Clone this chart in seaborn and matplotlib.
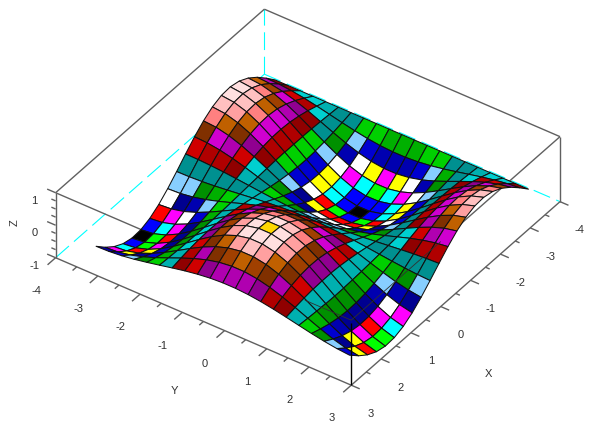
import numpy as np
import matplotlib
matplotlib.use("Agg")
import matplotlib.pyplot as plt
import seaborn as sns
from mpl_toolkits.mplot3d import Axes3D, proj3d


# grid (21 lines each way)
x_vals = [-3.14, -2.84, -2.54, -2.24, -1.94, -1.64, -1.34, -1.04, -0.74, -0.44, -0.14,
          0.16, 0.46, 0.76, 1.06, 1.36, 1.66, 1.96, 2.26, 2.56, 2.86]
y_vals = [-3.14, -2.84, -2.54, -2.24, -1.94, -1.64, -1.34, -1.04, -0.74, -0.44, -0.14,
          0.16, 0.46, 0.76, 1.06, 1.36, 1.66, 1.96, 2.26, 2.56, 2.86]

# height per x line (rows) and y line (columns)
z_vals = [
    [0, 0, 0, 0, 0, 0, 0, 0, 0, 0, 0, 0, 0, 0, 0, 0, 0, 0, 0, 0, 0],
    [.296, .282, .244, .184, .107, .021, -.067, -.149, -.218, -.267, -.293, -.292, -.265, -.215, -.145, -.062, .026, .112, .188, .247, .284],
    [.565, .539, .466, .351, .205, .040, -.128, -.285, -.416, -.510, -.559, -.558, -.506, -.410, -.277, -.119, .049, .213, .358, .471, .542],
    [.783, .748, .646, .487, .284, .055, -.178, -.395, -.578, -.708, -.775, -.774, -.702, -.569, -.384, -.165, .069, .296, .497, .654, .752],
    [.932, .890, .769, .579, .338, .066, -.212, -.470, -.687, -.843, -.923, -.920, -.836, -.677, -.457, -.196, .082, .352, .592, .778, .895],
    [.997, .953, .823, .620, .361, .071, -.227, -.504, -.736, -.902, -.988, -.985, -.895, -.724, -.489, -.210, .087, .377, .633, .833, .958],
    [.974, .930, .804, .605, .353, .069, -.221, -.492, -.718, -.880, -.964, -.962, -.873, -.707, -.477, -.205, .085, .368, .618, .813, .935],
    [.863, .825, .712, .537, .313, .061, -.196, -.436, -.637, -.780, -.855, -.852, -.774, -.627, -.423, -.182, .076, .326, .548, .721, .829],
    [.675, .645, .557, .420, .245, .048, -.153, -.341, -.498, -.611, -.669, -.667, -.606, -.490, -.331, -.142, .059, .255, .429, .564, .649],
    [.427, .408, .353, .266, .155, .030, -.097, -.216, -.315, -.386, -.423, -.422, -.383, -.310, -.210, -.090, .037, .162, .271, .357, .410],
    [.141, .135, .116, .088, .051, .010, -.032, -.071, -.104, -.128, -.140, -.139, -.127, -.102, -.069, -.030, .012, .053, .090, .118, .135],
    [-.158, -.151, -.130, -.098, -.057, -.011, .036, .080, .116, .143, .156, .156, .141, .114, .077, .033, -.014, -.060, -.100, -.132, -.151],
    [-.443, -.423, -.365, -.275, -.160, -.031, .101, .223, .326, .400, .438, .437, .397, .321, .217, .093, -.039, -.167, -.281, -.369, -.425],
    [-.688, -.657, -.568, -.428, -.249, -.049, .156, .347, .507, .622, .681, .679, .617, .499, .337, .145, -.060, -.260, -.437, -.574, -.660],
    [-.872, -.833, -.719, -.542, -.316, -.062, .198, .440, .643, .788, .863, .861, .782, .633, .427, .184, -.076, -.329, -.553, -.728, -.837],
    [-.978, -.934, -.807, -.608, -.354, -.069, .222, .494, .721, .884, .968, .965, .877, .710, .479, .206, -.086, -.369, -.620, -.816, -.939],
    [-.996, -.952, -.822, -.619, -.361, -.070, .226, .503, .735, .901, .986, .984, .893, .723, .488, .210, -.087, -.377, -.632, -.832, -.957],
    [-.926, -.884, -.764, -.575, -.335, -.065, .210, .467, .683, .837, .917, .914, .830, .672, .454, .195, -.081, -.350, -.588, -.773, -.889],
    [-.773, -.738, -.638, -.480, -.280, -.055, .176, .390, .570, .699, .765, .763, .693, .561, .379, .163, -.068, -.292, -.490, -.645, -.742],
    [-.551, -.526, -.454, -.342, -.200, -.039, .125, .278, .406, .498, .545, .544, .494, .400, .270, .116, -.048, -.208, -.350, -.460, -.529],
    [-.279, -.267, -.231, -.174, -.101, -.020, .063, .141, .206, .253, .277, .276, .251, .203, .137, .059, -.024, -.106, -.177, -.233, -.268],
]

x_ticks = [-4, -3, -2, -1, 0, 1, 2, 3]
y_ticks = [-4, -3, -2, -1, 0, 1, 2, 3]
z_ticks = [-1, 0, 1]

# 32 colour table, low to high
colour_table = ["#000000", "#0000FF", "#00FF00", "#00FFFF", "#FF0000", "#FF00FF", "#FFFF00", "#FFFFFF",
                "#000090", "#0000B0", "#0000D0", "#87CEFF", "#009000", "#00B000", "#00D000", "#009090",
                "#00B0B0", "#00D0D0", "#900000", "#B00000", "#D00000", "#900090", "#B000B0", "#D000D0",
                "#803000", "#A04000", "#C06000", "#FF8080", "#FFA0A0", "#FFC0C0", "#FFE0E0", "#FFD700"]

XMIN, XMAX = -4, 3
YMIN, YMAX = -4, 3
ZMIN, ZMAX = -1, 1
GREY = "#606060"
FONT = "Liberation Sans"

sns.set_theme(style="white")
plt.rcParams["font.family"] = [FONT, "DejaVu Sans"]

fig = plt.figure(figsize=(5.93, 4.25), dpi=100, facecolor="white")
# square axes bigger than the figure so nothing gets clipped, centre on the box middle
SIDE = 800
CX, CY = 297, 217
ax = fig.add_axes([(CX - SIDE / 2) / 593, (CY - SIDE / 2) / 425, SIDE / 593, SIDE / 425],
                  projection="3d", computed_zorder=False)
ax.patch.set_alpha(0)
ax.set_proj_type("ortho")
ax.view_init(elev=38, azim=35)
ax.set_box_aspect((364, 361, 82.5), zoom=0.63)
ax.set_xlim(XMIN, XMAX)
ax.set_ylim(YMIN, YMAX)
ax.set_zlim(ZMIN, ZMAX)
ax.set_axis_off()

X, Y = np.meshgrid(x_vals, y_vals, indexing="ij")
Z = np.array(z_vals)

# every cell takes its colour from the mean of its four corners
cell_z = (Z[:-1, :-1] + Z[1:, :-1] + Z[:-1, 1:] + Z[1:, 1:]) / 4
cell_idx = np.rint((cell_z - Z.min()) / (Z.max() - Z.min()) * 31).astype(int)
cell_rgb = np.array(sns.color_palette(colour_table))[cell_idx]
ax.plot_surface(X, Y, Z, facecolors=cell_rgb, rstride=1, cstride=1, shade=False,
                edgecolor="#101010", linewidth=0.75, zorder=5)


def edge(xs, ys, zs, color=GREY, lw=1.0, ls="-", z=1):
    ax.plot(xs, ys, zs, color=color, lw=lw, ls=ls, zorder=z, solid_capstyle="butt")


def label(x, y, z, s, rotation=0):
    # projected by hand so the label is a plain 2d text
    px, py, _ = proj3d.proj_transform(x, y, z, ax.get_proj())
    ax.text2D(px, py, s, transform=ax.transData, color="#303030", fontsize=8,
              ha="center", va="center", rotation=rotation, zorder=10)


# hidden back edges
dash = (0, (16, 6))
edge([XMIN, XMIN], [YMIN, YMIN], [ZMIN, ZMAX], color="#00FFFF", lw=0.8, ls=dash)
edge([XMAX, XMIN], [YMIN, YMIN], [ZMIN, ZMIN], color="#00FFFF", lw=0.8, ls=dash)
edge([XMIN, XMIN], [YMIN, YMAX], [ZMIN, ZMIN], color="#00FFFF", lw=0.8, ls=dash)

# box
edge([XMAX, XMIN], [YMIN, YMIN], [ZMAX, ZMAX])
edge([XMIN, XMIN], [YMIN, YMAX], [ZMAX, ZMAX])
edge([XMIN, XMAX], [YMAX, YMAX], [ZMAX, ZMAX])
edge([XMAX, XMAX], [YMIN, YMAX], [ZMAX, ZMAX])
edge([XMAX, XMAX], [YMIN, YMIN], [ZMIN, ZMAX])
edge([XMIN, XMIN], [YMAX, YMAX], [ZMIN, ZMAX])
edge([XMAX, XMAX], [YMIN, YMAX], [ZMIN, ZMIN])
edge([XMAX, XMIN], [YMAX, YMAX], [ZMIN, ZMIN])

# near corner shows through the surface
edge([XMAX, XMAX], [YMAX, YMAX], [ZMIN, ZMAX - 0.1], color="black", z=8)
edge([XMAX, XMAX], [1.9, YMAX], [ZMAX, ZMAX], color="#303030", lw=0.6, z=8)
edge([0, XMAX], [YMAX, YMAX], [ZMAX, ZMAX], color="#303030", lw=0.6, z=8)

# ticks along the y axis, x axis and z axis
for v in np.arange(YMIN, YMAX + 0.01, 0.5):
    d = 0.27 if float(v).is_integer() else 0.14
    edge([XMAX, XMAX + d], [v, v], [ZMIN, ZMIN])
for v in np.arange(XMIN, XMAX + 0.01, 0.5):
    d = 0.2 if float(v).is_integer() else 0.1
    edge([v, v], [YMAX, YMAX + d], [ZMIN, ZMIN])
for v in np.arange(ZMIN, ZMAX + 0.01, 0.25):
    d = 0.2 if float(v).is_integer() else 0.1
    edge([XMAX, XMAX], [YMIN, YMIN - d], [v, v])

for v in y_ticks:
    label(XMAX + 0.65, v, ZMIN - 0.5, str(v))
for v in x_ticks:
    label(v, YMAX + 0.47, ZMIN - 0.62, str(v))
for v in z_ticks:
    label(XMAX, YMIN - 0.5, v - 0.53, str(v))

label(XMAX, YMIN - 0.97, -0.45, "Z", rotation=90)
label(XMAX + 1.48, -0.15, ZMIN - 0.75, "Y")
label(0, YMAX + 1.13, ZMIN - 1.44, "X")

fig.savefig("out.png", dpi=100, facecolor="white")
